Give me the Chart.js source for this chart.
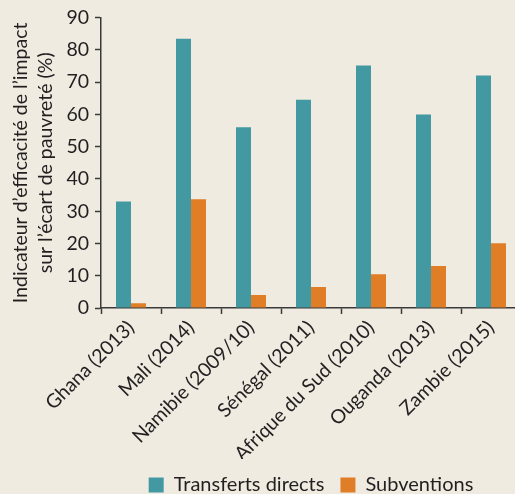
<!DOCTYPE html>
<html>
<head>
<meta charset="utf-8">
<script src="https://cdn.jsdelivr.net/npm/chart.js@4"></script>
<style>
  html, body { margin: 0; padding: 0; background: #efebe0; overflow: hidden; }
  canvas { display: block; }
</style>
</head>
<body>
<canvas id="myChart" width="525" height="505"></canvas>
<script>
// Data
const countries = ["Ghana (2013)", "Mali (2014)", "Namibie (2009/10)", "Sénégal (2011)",
  "Afrique du Sud (2010)", "Ouganda (2013)", "Zambie (2015)"];
const transferts = [33, 83.5, 56, 64.6, 75.2, 60, 72.1];
const subventions = [1.5, 33.7, 4, 6.5, 10.5, 13, 20.1];
const yMin = 0;
const yMax = 90;
const yStep = 10;

const ink = "#231f20";
const axisColor = "#3a3a3a";
const fontFamily = "Lato, 'Noto Sans', sans-serif";
const fontSize = 19.5;

const ctx = document.getElementById("myChart").getContext("2d");

new Chart(ctx, {
  type: "bar",
  data: {
    labels: countries,
    datasets: [
      {
        label: "Transferts directs",
        data: transferts,
        backgroundColor: "#4399a1",
        categoryPercentage: 0.5,
        barPercentage: 1,
      },
      {
        label: "Subventions",
        data: subventions,
        backgroundColor: "#e07d27",
        categoryPercentage: 0.5,
        barPercentage: 1,
      },
    ],
  },
  options: {
    responsive: false,
    animation: false,
    layout: {
      padding: { top: 8, right: 4, bottom: 0, left: 0 },
    },
    plugins: {
      tooltip: { enabled: false },
      legend: {
        position: "bottom",
        fullSize: false,
        labels: {
          boxWidth: 15,
          boxHeight: 15,
          padding: 16,
          color: ink,
          font: { family: fontFamily, size: 20 },
        },
      },
    },
    scales: {
      x: {
        afterFit: (scale) => { scale.height = 151; },
        grid: {
          offset: true,
          drawOnChartArea: false,
          tickLength: 6,
          tickColor: axisColor,
          tickWidth: 1.5,
        },
        border: { color: axisColor, width: 1.5 },
        ticks: {
          color: ink,
          font: { family: fontFamily, size: fontSize },
          maxRotation: 45,
          minRotation: 45,
          padding: 2,
        },
      },
      y: {
        min: yMin,
        max: yMax,
        afterFit: (scale) => { scale.width = 101; },
        grid: {
          drawOnChartArea: false,
          tickLength: 6,
          tickColor: axisColor,
          tickWidth: 1.5,
        },
        border: { color: axisColor, width: 1.5 },
        ticks: {
          stepSize: yStep,
          color: ink,
          padding: 6,
          font: { family: fontFamily, size: fontSize },
        },
        title: {
          display: true,
          text: ["Indicateur d’efficacité de l’impact", "sur l’écart de pauvreté (%)"],
          color: ink,
          font: { family: fontFamily, size: fontSize, lineHeight: 1.28 },
          padding: { top: 8, bottom: 4 },
        },
      },
    },
  },
});
</script>
</body>
</html>
